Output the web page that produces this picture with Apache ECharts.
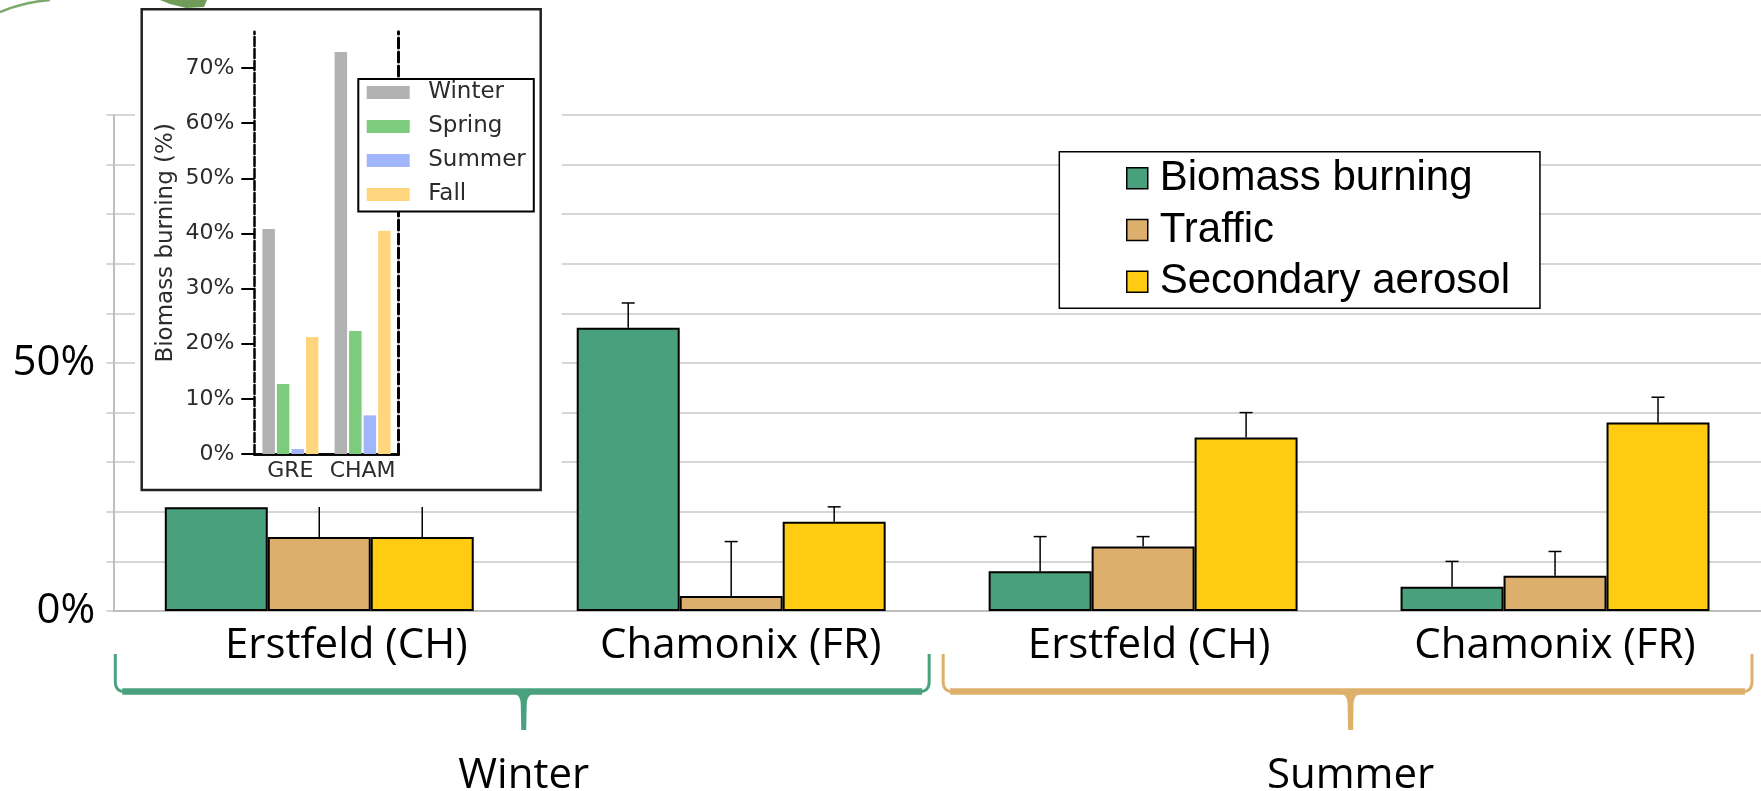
<!DOCTYPE html>
<html>
<head>
<meta charset="utf-8">
<script src="https://cdn.jsdelivr.net/npm/echarts@6/dist/echarts.min.js"></script>
<style>
html,body{margin:0;padding:0;background:#fff;}
#chart{width:1761px;height:791px;}
</style>
</head>
<body>
<div id="chart"></div>
<script>
// ---- main chart data ----
const categories = ['Erstfeld (CH)', 'Chamonix (FR)', 'Erstfeld (CH)', 'Chamonix (FR)'];
const seasonGroups = ['Winter', 'Summer'];
const seriesNames = ['Biomass burning', 'Traffic', 'Secondary aerosol'];
const biomass = [20.9, 57.1, 8.0, 4.9];
const traffic = [14.9, 3.0, 13.0, 7.1];
const secondary = [14.9, 18.0, 35.0, 38.0];
const biomassErr = [5.0, 5.0, 7.0, 5.1];
const trafficErr = [6.5, 11.0, 2.0, 4.9];
const secondaryErr = [6.5, 3.0, 5.0, 5.1];
const mainYLabels = [0, 50];

// ---- inset chart data ----
const insetSites = ['GRE', 'CHAM'];
const insetSeasons = ['Winter', 'Spring', 'Summer', 'Fall'];
const insetWinter = [40.8, 72.9];
const insetSpring = [12.7, 22.3];
const insetSummer = [0.9, 7.0];
const insetFall = [21.2, 40.5];
const insetTicks = [0, 10, 20, 30, 40, 50, 60, 70];

// ---- styles ----
const barColors = ['#48A07D', '#DCB06C', '#FFCC11'];
const insetColors = ['#B2B2B2', '#7DCB7D', '#A0B5FA', '#FFD67E'];
const bracketColors = ['#4AA17F', '#DDB06C'];
const insetText = '#2b2b2b';
const labelShift = [54, 19, 12, 0];

const chart = echarts.init(document.getElementById('chart'), null, {renderer: 'canvas'});

const mainValues = [biomass, traffic, secondary];
const mainErrs = [biomassErr, trafficErr, secondaryErr];

const series = [];
mainValues.forEach((vals, k) => {
  series.push({
    name: seriesNames[k], type: 'bar', xAxisIndex: 0, yAxisIndex: 0,
    data: vals, barGap: '0%', barCategoryGap: '25%', z: 2,
    itemStyle: {color: barColors[k], borderColor: '#000', borderWidth: 2}
  });
});
mainValues.forEach((vals, k) => {
  series.push({
    name: 'err' + k, type: 'custom', xAxisIndex: 0, yAxisIndex: 0, z: 3,
    encode: {x: 0, y: 1},
    data: vals.map((v, i) => [i, v, mainErrs[k][i]]),
    renderItem: function (params, api) {
      const ci = api.value(0), v = api.value(1), e = api.value(2);
      const p0 = api.coord([ci, v]);
      const p1 = api.coord([ci, v + e]);
      const bw = api.size([1, 0])[0];
      const x = p0[0] + (k - 1) * bw * 0.25;
      return {
        type: 'group',
        children: [
          {type: 'line', shape: {x1: x, y1: p0[1], x2: x, y2: p1[1]}, style: {stroke: '#000', lineWidth: 1.5}},
          {type: 'line', shape: {x1: x - 6.5, y1: p1[1], x2: x + 6.5, y2: p1[1]}, style: {stroke: '#000', lineWidth: 1.5}}
        ]
      };
    }
  });
});
[insetWinter, insetSpring, insetSummer, insetFall].forEach((vals, k) => {
  series.push({
    name: insetSeasons[k], type: 'bar', xAxisIndex: 1, yAxisIndex: 1,
    data: vals, barWidth: 12.5, barGap: '16%', z: 10,
    itemStyle: {color: insetColors[k]}
  });
});

const rich = {};
labelShift.forEach((s, i) => { rich['s' + i] = {padding: [0, 0, 0, s]}; });

const baseGraphic = [
  {id: 'insetBg', type: 'rect', z: 6, shape: {x: 135, y: 0, width: 426.7, height: 507}, style: {fill: '#fff'}},
  {id: 'insetBox', type: 'rect', z: 11, shape: {x: 141.7, y: 9.3, width: 399, height: 480.7}, style: {fill: null, stroke: '#222', lineWidth: 2.5}},
  {id: 'deco1', type: 'bezierCurve', z: 7, shape: {x1: 0, y1: 12, cpx1: 24, cpy1: 2, x2: 50, y2: 0}, style: {fill: null, stroke: '#7DAA6A', lineWidth: 2.5}},
  {id: 'deco2', type: 'polygon', z: 7, shape: {points: [[160, 0], [207, 0], [204, 7], [186, 8], [170, 4]]}, style: {fill: '#6F9C58'}}
];

const option = {
  animation: false,
  backgroundColor: '#fff',
  grid: [
    {left: 113.3, top: 115, width: 1656.8, height: 496},
    {left: 254.3, top: 31.7, width: 144.4, height: 422.3}
  ],
  xAxis: [
    {
      gridIndex: 0, type: 'category', data: categories,
      axisLine: {lineStyle: {color: '#BFBFBF', width: 2}},
      axisTick: {length: 8, lineStyle: {color: '#BFBFBF', width: 1.5}},
      axisLabel: {
        interval: 0, fontFamily: 'Open Sans', fontSize: 42, color: '#000', margin: 14,
        formatter: (val, idx) => '{s' + idx + '|' + val + '}', rich: rich
      }
    },
    {
      gridIndex: 1, type: 'category', data: insetSites, position: 'bottom', z: 10,
      axisLine: {lineStyle: {color: '#000', width: 2.5}}, axisTick: {show: false},
      axisLabel: {interval: 0, fontFamily: 'DejaVu Sans', fontSize: 22, color: insetText, margin: 6}
    },
    {
      gridIndex: 1, type: 'category', data: insetSites, position: 'top', z: 10,
      axisLine: {lineStyle: {color: '#000', width: 2.5}}, axisTick: {show: false}, axisLabel: {show: false}
    }
  ],
  yAxis: [
    {
      gridIndex: 0, type: 'value', min: 0, max: 100, interval: 10,
      axisLine: {show: true, lineStyle: {color: '#BFBFBF', width: 2}},
      axisTick: {show: true, length: 7, lineStyle: {color: '#C9C9C9', width: 1.5}},
      splitLine: {lineStyle: {color: '#C9C9C9', width: 1.5}},
      axisLabel: {customValues: mainYLabels, formatter: '{value}%', fontFamily: 'Open Sans', fontSize: 42, color: '#000', margin: 18, padding: [0, 0, 18, 0]}
    },
    {
      gridIndex: 1, type: 'value', min: 0, max: 76.6, interval: 10, position: 'left', z: 10,
      axisLine: {show: true, lineStyle: {color: '#000', width: 2.5, type: [9, 3]}},
      axisTick: {show: true, length: 13, customValues: insetTicks, lineStyle: {color: '#000', width: 2}},
      splitLine: {show: false},
      axisLabel: {customValues: insetTicks, formatter: '{value}%', fontFamily: 'DejaVu Sans', fontSize: 22, color: insetText, margin: 20},
      name: 'Biomass burning (%)', nameLocation: 'middle', nameGap: 77,
      nameTextStyle: {fontFamily: 'DejaVu Sans', fontSize: 23, color: insetText}
    },
    {
      gridIndex: 1, type: 'value', min: 0, max: 76.6, position: 'right', z: 10,
      axisLine: {show: true, lineStyle: {color: '#000', width: 3, type: [10, 4]}},
      axisTick: {show: false}, axisLabel: {show: false}, splitLine: {show: false}
    }
  ],
  legend: [
    {
      data: seriesNames, orient: 'vertical', left: 1059.3, top: 151.7, z: 8,
      itemWidth: 21, itemHeight: 21, itemGap: 5.7, icon: 'rect',
      padding: [3.6, 30, 3.6, 66.7], selectedMode: false,
      backgroundColor: '#fff', borderColor: '#000', borderWidth: 1.5,
      itemStyle: {borderColor: '#000', borderWidth: 1.5},
      textStyle: {fontFamily: 'Liberation Sans', fontSize: 42, color: '#000', lineHeight: 46, padding: [0, 0, 0, 7]}
    },
    {
      data: insetSeasons, orient: 'vertical', left: 358.3, top: 79, z: 12,
      itemWidth: 43, itemHeight: 13, itemGap: 10, icon: 'rect',
      padding: [1.5, 8, 5, 8.4], selectedMode: false,
      backgroundColor: '#fff', borderColor: '#000', borderWidth: 2,
      itemStyle: {borderWidth: 0},
      textStyle: {fontFamily: 'DejaVu Sans', fontSize: 23, color: insetText, lineHeight: 24, padding: [0, 0, 0, 13.5]}
    }
  ],
  graphic: baseGraphic,
  series: series
};

chart.setOption(option);

// brackets and group labels positioned from the category axis
const cx = i => chart.convertToPixel({xAxisIndex: 0}, i);
const bw = cx(1) - cx(0);
const yTop = 654, yH = 691.5, ySpike = 730;
function quad(p0, c, p1, n) {
  const pts = [];
  for (let t = 0; t <= n; t++) {
    const u = t / n;
    pts.push([(1 - u) * (1 - u) * p0[0] + 2 * (1 - u) * u * c[0] + u * u * p1[0],
              (1 - u) * (1 - u) * p0[1] + 2 * (1 - u) * u * c[1] + u * u * p1[1]]);
  }
  return pts;
}
function bracket(id, L, C, R, color, label) {
  const hookL = [[L, yTop]].concat(quad([L, yH - 10], [L, yH], [L + 9, yH], 8));
  const hookR = [[R, yTop]].concat(quad([R, yH - 10], [R, yH], [R - 9, yH], 8));
  const leftCurve = quad([C - 12, yH + 2], [C - 3.5, yH + 2], [C - 3, yH + 12], 8);
  const rightCurve = quad([C + 3, yH + 12], [C + 3.5, yH + 2], [C + 12, yH + 2], 8);
  const spike = leftCurve.concat([[C - 2.5, ySpike], [C + 2.5, ySpike]], rightCurve);
  return [
    {id: id + 'hl', type: 'polyline', z: 5, shape: {points: hookL}, style: {fill: null, stroke: color, lineWidth: 3}},
    {id: id + 'hr', type: 'polyline', z: 5, shape: {points: hookR}, style: {fill: null, stroke: color, lineWidth: 3}},
    {id: id + 'h', type: 'line', z: 5, shape: {x1: L + 7, y1: yH, x2: R - 7, y2: yH}, style: {stroke: color, lineWidth: 6.5}},
    {id: id + 's', type: 'polygon', z: 5, shape: {points: spike}, style: {fill: color}},
    {id: id + 't', type: 'text', z: 5, x: C, y: 776, style: {text: label, fontFamily: 'Open Sans', fontSize: 42, fill: '#000', align: 'center', verticalAlign: 'middle'}}
  ];
}
const g1 = bracket('w', cx(0) - bw / 2 + 2, (cx(0) + cx(1)) / 2 - 1.5, cx(1) + bw / 2 - 8, bracketColors[0], seasonGroups[0]);
const g2 = bracket('s', cx(2) - bw / 2 + 6, (cx(2) + cx(3)) / 2 + 1.5, Math.min(cx(3) + bw / 2 - 9, 1759.5), bracketColors[1], seasonGroups[1]);
chart.setOption({graphic: baseGraphic.concat(g1, g2)});
</script>
</body>
</html>
